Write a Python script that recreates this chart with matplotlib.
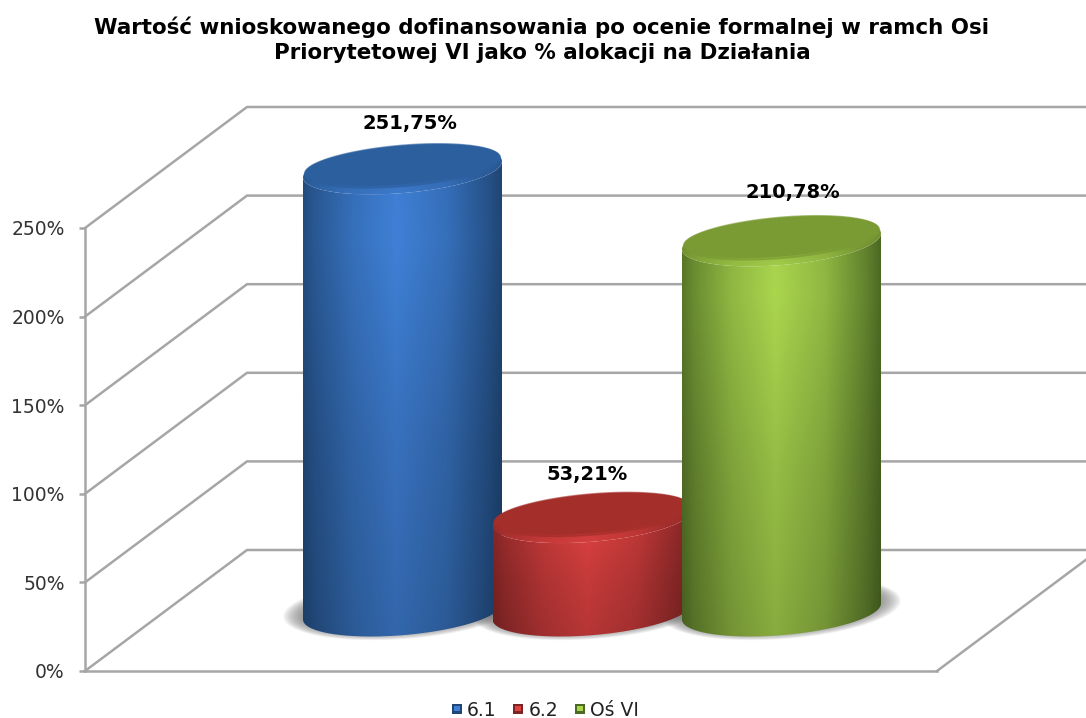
from matplotlib import pyplot as plt
from matplotlib.colors import to_rgb
from matplotlib.legend_handler import HandlerBase
from matplotlib.patches import PathPatch, Polygon, Rectangle
from matplotlib.path import Path
from matplotlib.ticker import FuncFormatter
import numpy as np

categories = ["6.1", "6.2", "Oś VI"]
values = [251.75, 53.21, 210.78]
value_labels = ["251,75%", "53,21%", "210,78%"]
yticks = [0, 50, 100, 150, 200, 250]
title = ("Wartość wnioskowanego dofinansowania po ocenie formalnej w ramch Osi\n"
         "Priorytetowej VI jako % alokacji na Działania")

# colours of each cylinder: edge, highlight, top face
edge_cols = ["#1f4675", "#7c2323", "#4d6a24"]
light_cols = ["#3f80d6", "#e04242", "#aad64e"]
top_cols = ["#2c5f9e", "#a32e2a", "#7a9a33"]

GREY = "#a6a6a6"
W, H = 1086, 718
PX = 1.772          # pixels per percent on the value axis
X0, STEP = 402.5, 189.5   # pixel x of first category, spacing
Y_ZERO = 671        # pixel y of 0% on the front axis
RAD = 99.5 / STEP   # cylinder radius in category units
HALF = 23.7 / PX    # ellipse half height
TILT = 8 / PX       # right side of ellipses sits higher
CYL_SCALE = 0.991
BASE = 59.5 / PX    # cylinders stand partway into the floor
DX, DY = 162 / STEP, 121 / PX   # depth of the box


def to_x(px):
    return (px - X0) / STEP


def ellipse(cx, cy, rx, ry, tilt, t0=0, t1=2 * np.pi):
    t = np.linspace(t0, t1, 120)
    return np.column_stack([cx + rx * np.cos(t), cy + ry * np.sin(t) + tilt * np.cos(t)])


def shade(edge, light, rows=80, bottom=0.8):
    u = np.linspace(0, 1, 256)
    mix = np.interp(u, [0, 0.06, 0.25, 0.47, 0.72, 0.93, 1], [0.12, 0.32, 0.72, 1, 0.72, 0.22, 0])
    e, l = np.array(to_rgb(edge)), np.array(to_rgb(light))
    row = e + (l - e) * mix[:, None]
    t = np.linspace(1, 0, rows)
    v = np.interp(t, [0, 0.2, 0.6, 1], [0.98, 1, 0.88, bottom])
    return np.clip(v[:, None, None] * row[None, :, :], 0, 1)


def gradient(ax, pts, cx, y0, y1, edge, light, z, **kw):
    clip = PathPatch(Path(pts), facecolor="none", edgecolor="none", zorder=z)
    ax.add_patch(clip)
    im = ax.imshow(shade(edge, light, **kw), extent=(cx - RAD, cx + RAD, y0, y1),
                   origin="lower", aspect="auto", zorder=z, interpolation="bilinear")
    im.set_clip_path(clip)


def shadow(ax, i):
    # soft shadow on the floor, under all the cylinders
    for k in range(24):
        f = k / 23
        pts = ellipse(i, BASE + 3 / PX, RAD + (20 - 22 * f) / STEP, HALF + (7 - 8 * f) / PX, TILT)
        ax.add_patch(Polygon(pts, closed=True, facecolor="#777777", edgecolor="none",
                             alpha=0.05, zorder=5))


def cylinder(ax, i, value, z):
    base = BASE
    top = base + value * CYL_SCALE
    # body
    low = ellipse(i, base, RAD, HALF, TILT, np.pi, 2 * np.pi)
    up = ellipse(i, top, RAD, HALF, TILT, 2 * np.pi, np.pi)
    body = np.vstack([low, up])
    gradient(ax, body, i, base - 20, top + 20, edge_cols[i], light_cols[i], z + 1)
    # top face with lighter rim at the front
    gradient(ax, ellipse(i, top, RAD, HALF, TILT), i, top - 20, top + 20,
             top_cols[i], light_cols[i], z + 2, bottom=1.0)
    inner = ellipse(i, top + 3.6 / PX, RAD * 0.985, HALF * 0.87, TILT)
    ax.add_patch(Polygon(inner, closed=True, facecolor=top_cols[i], edgecolor=top_cols[i],
                         lw=1.0, alpha=0.6, zorder=z + 3))
    inner = ellipse(i, top + 4.4 / PX, RAD * 0.98, HALF * 0.82, TILT)
    ax.add_patch(Polygon(inner, closed=True, facecolor=top_cols[i], edgecolor="none", zorder=z + 3))


class GlossSquare(HandlerBase):
    def create_artists(self, legend, orig, xd, yd, width, height, fontsize, trans):
        col = orig.get_facecolor()
        light = orig.get_edgecolor()
        s = 7.5
        x = xd * -1 + (width - s) / 2
        y = yd * -1 + (height - s) / 2
        outer = Rectangle((x, y), s, s, facecolor=col, edgecolor="none", transform=trans)
        inner = Rectangle((x + 1.5, y + 2), s - 3, s - 3.5, facecolor=light, edgecolor="none", transform=trans)
        return [outer, inner]


def main():
    fig = plt.figure(figsize=(W / 100, H / 100), dpi=100)
    ax = fig.add_axes([0, 0, 1, 1])
    ax.patch.set_visible(False)
    fig.patch.set_facecolor("white")

    # walls and floor
    left = to_x(85)
    for t in yticks:
        ax.plot([left, left + DX, to_x(W)], [t, t + DY, t + DY], color=GREY, lw=1.8,
                solid_joinstyle="miter", zorder=1)
    corner = to_x(937)
    ax.plot([corner, corner + DX], [0, DY], color=GREY, lw=1.8, zorder=1)

    for i, v in enumerate(values):
        shadow(ax, i)
    for i, v in enumerate(values):
        cylinder(ax, i, v, 10 + i * 10)

    # data labels
    shifts = [7.5, -5, 11.5]
    rises = [46, 44, 49]
    for i, v in enumerate(values):
        ax.annotate(value_labels[i], (i, BASE + v * CYL_SCALE),
                    xytext=(shifts[i] * 0.72, rises[i] * 0.72), textcoords="offset points",
                    ha="center", va="center", fontsize=14, fontweight="bold",
                    color="black", zorder=50)

    ax.set_xlim(to_x(0), to_x(W))
    ax.set_ylim((Y_ZERO - H) / PX, Y_ZERO / PX)

    for s in ["top", "right"]:
        ax.spines[s].set_visible(False)
    ax.spines["left"].set_position(("data", left))
    ax.spines["left"].set_bounds(0, 250)
    ax.spines["bottom"].set_position(("data", 0))
    ax.spines["bottom"].set_bounds(left, corner)
    for s in ["left", "bottom"]:
        ax.spines[s].set_color(GREY)
        ax.spines[s].set_linewidth(1.8)
    ax.set_xticks([])
    ax.set_yticks(yticks)
    ax.yaxis.set_major_formatter(FuncFormatter(lambda v, pos: "%d%%" % v))
    ax.tick_params(axis="y", length=4.5, width=1.8, color=GREY, labelsize=13.5,
                   labelcolor="#333333", pad=10)

    handles = [Rectangle((0, 0), 1, 1, facecolor=edge_cols[i], edgecolor=light_cols[i])
               for i in range(3)]
    ax.legend(handles, categories, ncol=3, frameon=False, fontsize=13.5,
              loc="center", bbox_to_anchor=(545 / W, 1 - 710 / H), bbox_transform=fig.transFigure,
              handler_map={Rectangle: GlossSquare()}, handlelength=0.6, handletextpad=0.25,
              columnspacing=0.85, labelcolor="#222222", borderpad=0, borderaxespad=0)

    fig.suptitle(title, x=542 / W, y=1 - 40 / H, va="center", ha="center", fontsize=15.4,
                 fontweight="bold", color="black", linespacing=1.3)

    fig.savefig("out.png", dpi=100)


if (__name__ == "__main__"):
    main()
